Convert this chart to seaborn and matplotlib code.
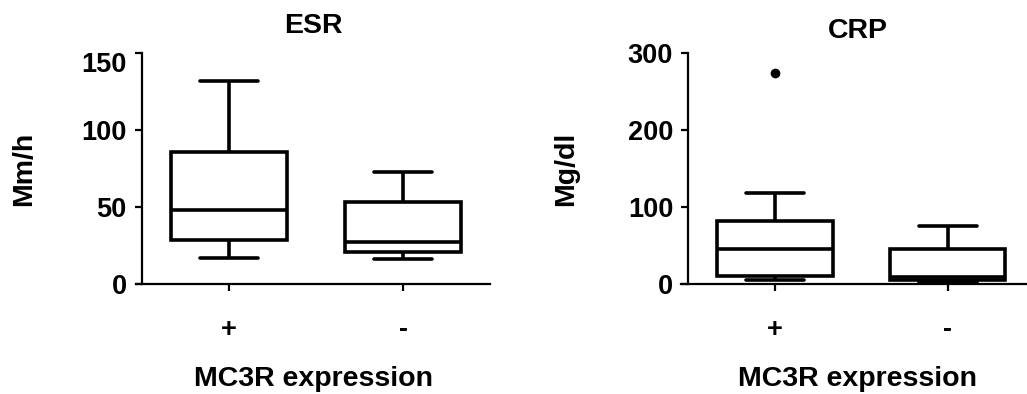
import pandas as pd
import seaborn as sns
import matplotlib.pyplot as plt
import matplotlib.transforms as mtransforms

groups = ["+", "-"]

# five-number summaries, one entry per group
esr_min = [17, 16]
esr_q1 = [28.5, 21]
esr_med = [48, 27]
esr_q3 = [85.5, 53]
esr_max = [132, 73]
esr_out = [[], []]

crp_min = [5, 3]
crp_q1 = [10.5, 5]
crp_med = [46, 9]
crp_q3 = [82, 46]
crp_max = [118, 75.5]
crp_out = [[274], []]


def long_table(*cols):
    rows = []
    for i, g in enumerate(groups):
        for col in cols:
            vals = col[i] if isinstance(col[i], list) else [col[i]]
            rows += [(g, v) for v in vals]
    return pd.DataFrame(rows, columns=["group", "value"])


sns.set_style("ticks")
plt.rcParams['font.family'] = ['Liberation Sans', 'DejaVu Sans']
plt.rcParams['font.weight'] = 'bold'
plt.rcParams['axes.labelweight'] = 'bold'
plt.rcParams['axes.titleweight'] = 'bold'
for k in ['text.color', 'axes.labelcolor', 'xtick.color', 'ytick.color', 'axes.edgecolor']:
    plt.rcParams[k] = 'black'

W, H = 1027, 394
fig = plt.figure(figsize=(W / 100, H / 100), dpi=100)
ax1 = fig.add_axes([136 / W, 110 / H, 354 / W, 231 / H])
ax2 = fig.add_axes([681 / W, 110 / H, 353 / W, 231 / H])


def panel(ax, box_df, out_df, title, ylabel, ymax, ystep, xlim_left, title_pad, ylab_x):
    sns.boxplot(data=box_df, x="group", y="value", order=groups, whis=(0, 100),
                width=0.67, color="white", linecolor="black", linewidth=2.6,
                showfliers=False, ax=ax)
    if len(out_df):
        sns.stripplot(data=out_df, x="group", y="value", order=groups, jitter=False,
                      color="black", size=7, ax=ax)
    ax.set_xlim(xlim_left, 1.5)
    ax.set_ylim(0, ymax)
    ax.set_yticks(range(0, ymax + 1, ystep))
    ax.set_xticks([0, 1])
    ax.set_xticklabels(groups)
    for s in ["top", "right"]:
        ax.spines[s].set_visible(False)
    ax.spines["left"].set_position(("data", -0.5))
    ax.spines["left"].set_linewidth(1.6)
    ax.spines["bottom"].set_linewidth(1.6)
    ax.tick_params(axis="x", length=5, width=1.6, pad=19, labelsize=19.5)
    ax.tick_params(axis="y", length=5, width=1.6, pad=6, labelsize=19.5)
    ax.set_title(title, fontsize=20.5, pad=title_pad)
    ax.set_xlabel("MC3R expression", fontsize=20.5, labelpad=16)
    ax.set_ylabel(ylabel, fontsize=20.5)
    ax.yaxis.set_label_coords(ylab_x, 0.5)


esr_df = long_table(esr_min, esr_q1, esr_med, esr_q3, esr_max)
crp_df = long_table(crp_min, crp_q1, crp_med, crp_q3, crp_max)
panel(ax1, esr_df, long_table(esr_out), "ESR", "Mm/h", 150, 50, -0.535, 14.4, -0.28)
panel(ax2, crp_df, long_table(crp_out), "CRP", "Mg/dl", 300, 100, -0.543, 11, -0.29)

# top ESR tick label sits a bit below its tick in the original
top_lbl = ax1.get_yticklabels()[-1]
top_lbl.set_transform(top_lbl.get_transform() +
                      mtransforms.ScaledTranslation(0, -9 / 100, fig.dpi_scale_trans))

fig.savefig("out.png", dpi=100)
